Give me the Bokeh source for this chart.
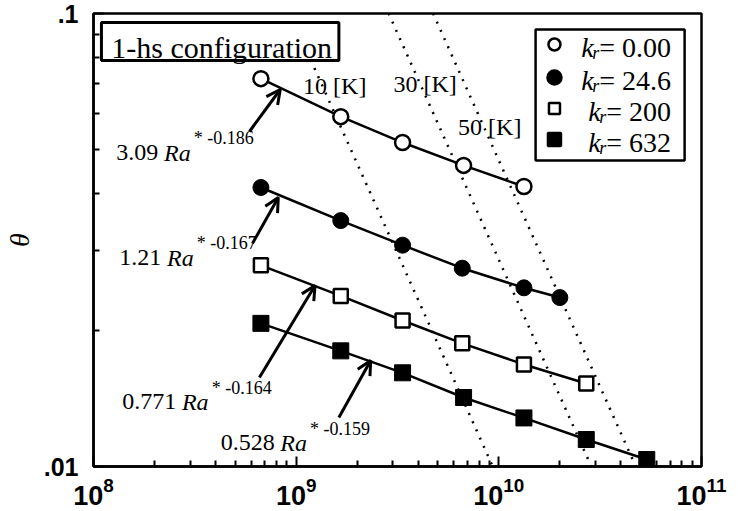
import math
from bokeh.plotting import figure
from bokeh.models import (Range1d, FixedTicker, Label, BoxAnnotation, Arrow, OpenHead,
                          LogTickFormatter)
from bokeh.embed import file_html
from bokeh.resources import INLINE

# ---------------- data ----------------
ra_k0 = [6.7e8, 1.66e9, 3.35e9, 6.7e9, 1.33e10]
th_k0 = [0.0718, 0.0592, 0.0519, 0.0462, 0.0415]

ra_k24 = [6.7e8, 1.66e9, 3.35e9, 6.6e9, 1.33e10, 2.0e10]
th_k24 = [0.0413, 0.0349, 0.0308, 0.0274, 0.0248, 0.0236]

ra_k200 = [6.7e8, 1.66e9, 3.35e9, 6.6e9, 1.33e10, 2.7e10]
th_k200 = [0.0278, 0.0238, 0.0210, 0.0187, 0.0168, 0.01525]

ra_k632 = [6.7e8, 1.66e9, 3.35e9, 6.7e9, 1.33e10, 2.7e10, 5.37e10]
th_k632 = [0.0207, 0.0180, 0.0161, 0.0142, 0.0128, 0.01147, 0.01036]

# constant temperature-difference lines (dotted)
dT10_ra = [1.18e9, 9.33e9]
dT10_th = [0.079, 0.01]
dT30_ra = [2.86e9, 2.86e10]
dT30_th = [0.1, 0.01]
dT50_ra = [4.74e9, 4.74e10]
dT50_th = [0.1, 0.01]
dT_labels = ["10 [K]", "30 [K]", "50 [K]"]

kr_labels = ["0.00", "24.6", "200", "632"]
fit_coef = ["3.09", "1.21", "0.771", "0.528"]
fit_exp = ["* -0.186", "* -0.167", "* -0.164", "* -0.159"]

x_ticks = [1e8, 1e9, 1e10, 1e11]
y_ticks = [0.01, 0.1]
y_tick_labels = [".01", ".1"]

# ---------------- layout helpers (picture pixels -> data) ----------------
X0, X1, Y0, Y1 = 89, 701, 13, 466
W, H = 738, 511
TEXT_SHIFT = 6  # Bokeh label baseline correction, px


def at(px, py):
    return (10 ** (8 + 3 * (px - X0) / (X1 - X0)),
            10 ** (-1 - (py - Y0) / (Y1 - Y0)))


SERIF = "Liberation Serif"
SANS = "Liberation Sans"

p = figure(width=W, height=H, x_axis_type="log", y_axis_type="log",
           x_range=Range1d(1e8, 1e11), y_range=Range1d(0.01, 0.1),
           output_backend="svg", toolbar_location=None,
           min_border_left=X0, min_border_right=W - X1, min_border_top=Y0,
           min_border_bottom=H - Y1)
p.grid.visible = False
p.background_fill_color = "white"
p.border_fill_color = "white"
p.outline_line_color = "black"
p.outline_line_width = 2.5

p.xaxis.ticker = FixedTicker(ticks=x_ticks,
                             minor_ticks=[m * 10 ** e for e in (8, 9, 10) for m in range(2, 10)])
p.yaxis.ticker = FixedTicker(ticks=y_ticks, minor_ticks=[m / 100 for m in range(2, 10)])
p.xaxis.formatter = LogTickFormatter()
p.yaxis.major_label_overrides = dict(zip(y_ticks, y_tick_labels))
for ax in (p.xaxis[0], p.yaxis[0]):
    ax.axis_line_color = "black"
    ax.axis_line_width = 2.5
    ax.major_tick_in = 10
    ax.major_tick_out = 0
    ax.minor_tick_in = 6
    ax.minor_tick_out = 0
    ax.major_tick_line_width = 2
    ax.minor_tick_line_width = 2
    ax.major_tick_line_color = "black"
    ax.minor_tick_line_color = "black"
    ax.major_label_text_font = SANS
    ax.major_label_text_font_style = "bold"
    ax.major_label_text_color = "black"

p.xaxis.major_label_text_font_size = "27px"
p.xaxis.major_label_standoff = 10
p.yaxis.major_label_text_font_size = "25px"
p.yaxis.major_label_standoff = 15
p.yaxis.axis_label = "θ"
p.yaxis.axis_label_text_font = SERIF
p.yaxis.axis_label_text_font_style = "italic"
p.yaxis.axis_label_text_font_size = "28px"
p.yaxis.axis_label_text_color = "black"
p.yaxis.axis_label_standoff = 6

# ---------------- boxes (under the glyphs) ----------------
bl, bt = at(97, 22)
br, bb = at(336, 60)
p.add_layout(BoxAnnotation(left=bl, right=br, top=bt, bottom=bb, level="underlay",
                           fill_color="white", fill_alpha=1.0,
                           line_color="black", line_alpha=1.0, line_width=3))
ll, lt = at(534, 29)
lr, lb = at(684, 160)
p.add_layout(BoxAnnotation(left=ll, right=lr, top=lt, bottom=lb, level="underlay",
                           fill_color="white", fill_alpha=1.0,
                           line_color="black", line_alpha=1.0, line_width=2.5))

# ---------------- dotted lines ----------------
for xs, ys in ((dT10_ra, dT10_th), (dT30_ra, dT30_th), (dT50_ra, dT50_th)):
    p.line(xs, ys, line_color="black", line_width=2.5, line_dash="2 7")

# ---------------- series ----------------
LW = 2.5
p.line(ra_k0, th_k0, line_color="black", line_width=LW)
p.line(ra_k24, th_k24, line_color="black", line_width=LW)
p.line(ra_k200, th_k200, line_color="black", line_width=LW)
p.line(ra_k632, th_k632, line_color="black", line_width=LW)

p.scatter(ra_k0, th_k0, marker="circle", size=15, fill_color="white",
          line_color="black", line_width=2.5)
p.scatter(ra_k24, th_k24, marker="circle", size=16, fill_color="black",
          line_color="black")
p.scatter(ra_k200, th_k200, marker="square", size=14, fill_color="white",
          line_color="black", line_width=2.5)
p.scatter(ra_k632, th_k632, marker="square", size=16, fill_color="black",
          line_color="black")


def label(px, py, text, size, style="normal", align="left", font=SERIF):
    x, y = at(px, py - TEXT_SHIFT)
    p.add_layout(Label(x=x, y=y, text=text, text_font=font, text_font_size=size,
                       text_font_style=style, text_align=align,
                       text_baseline="alphabetic", text_color="black"))


# ---------------- legend (manual) ----------------
leg_rows = [(53, 580), (86, 580), (117, 587), (148, 587)]
leg_styles = [("circle", "white", 12), ("circle", "black", 14),
              ("square", "white", 11), ("square", "black", 13)]
for (base, kx), (mk, fc, sz), lab in zip(leg_rows, leg_styles, kr_labels):
    mx, my = at(553, base - 9)
    p.scatter([mx], [my], marker=mk, size=sz, fill_color=fc, line_color="black",
              line_width=2.5)
    label(kx, base, "k", "28px", "italic")
    label(kx + 11, base + 5, "r", "18px", "italic")
    label(kx + 18, base, "= " + lab, "28px")

# ---------------- configuration title ----------------
label(218, 53, "1-hs configuration", "30px", align="center")

# ---------------- dT labels ----------------
for (lx, lyb), lab in zip([(300, 91), (391, 89), (456, 132)], dT_labels):
    label(lx, lyb, lab, "24px")

# ---------------- fit annotations ----------------
ann_pos = [(112, 158, 160, 190, 143),
           (115, 263, 163, 193, 248),
           (118, 407, 178, 208, 393),
           (217, 448, 277, 307, 434)]
for (nl, nb, rl, sl, sb), coef, ex in zip(ann_pos, fit_coef, fit_exp):
    label(nl, nb, coef, "24px")
    label(rl, nb, "Ra", "24px", "italic")
    label(sl, sb, ex, "18px")

arrows = [((246, 131), (277, 89)), ((249, 243), (275, 197)),
          ((256, 377), (312, 285)), ((336, 417), (368, 360))]
for (t, h) in arrows:
    xs, ys = at(*t)
    xe, ye = at(*h)
    p.add_layout(Arrow(x_start=xs, y_start=ys, x_end=xe, y_end=ye,
                       line_color="black", line_width=3,
                       end=OpenHead(size=14, line_width=3, line_color="black")))

open("out.html", "w").write(file_html(p, INLINE))
